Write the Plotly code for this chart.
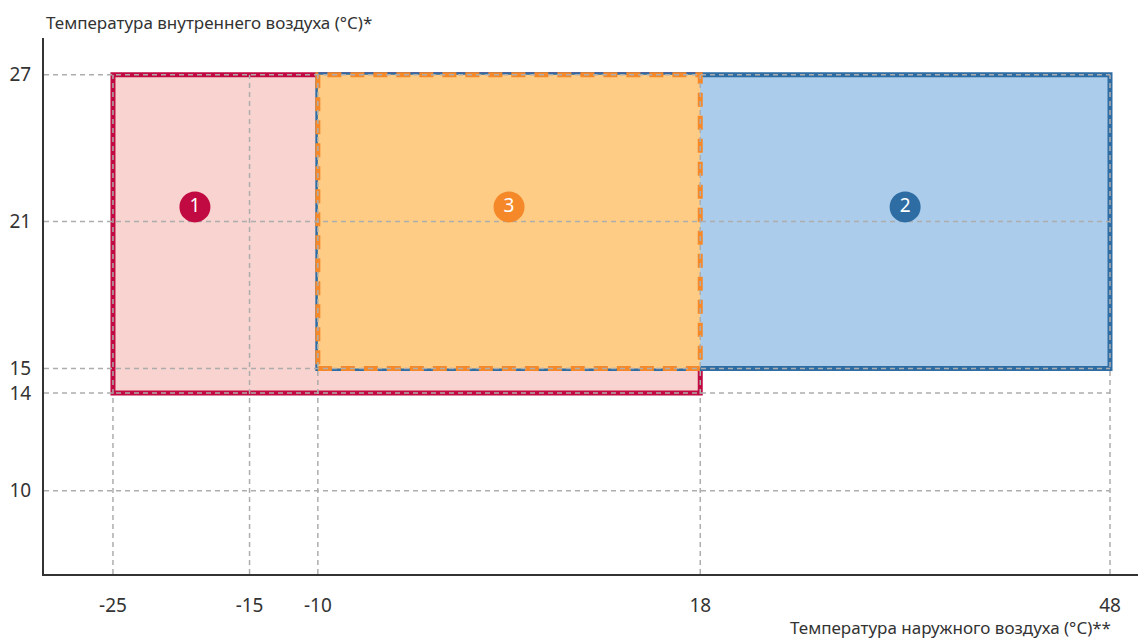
import plotly.graph_objects as go

# Outdoor temperature ticks (x) and indoor temperature ticks (y)
x_ticks = [-25, -15, -10, 18, 48]
y_ticks = [27, 21, 15, 14, 10]

# Operating zones: name, x0, x1, y0, y1
zone_names = ["1", "2", "3"]
zone_x0 = [-25, -10, -10]
zone_x1 = [18, 48, 18]
zone_y0 = [14, 15, 15]
zone_y1 = [27, 27, 27]

# Badge positions for each zone number
badge_x = [-19, 33, 4]
badge_y = [21.6, 21.6, 21.6]

fill_colors = ["#F8D3CF", "#ABCDEB", "#FECC85"]
line_colors = ["#C20A42", "#2E6DA4", "#F5892A"]
line_dash = ["solid", "solid", "14px,9px"]
badge_colors = ["#C20A42", "#2E6DA4", "#F5892A"]

GRID = "#ADADAD"
FONT = "Noto Sans"

x_range = [-30.05, 50.05]
y_range = [6.6, 28.5]

fig = go.Figure()

shapes = []
# zones (drawn below the grid)
for i in range(len(zone_names)):
    shapes.append(dict(
        type="rect", xref="x", yref="y",
        x0=zone_x0[i], x1=zone_x1[i], y0=zone_y0[i], y1=zone_y1[i],
        fillcolor=fill_colors[i],
        line=dict(color=line_colors[i], width=5, dash=line_dash[i]),
        layer="below",
    ))

# dashed grid, bounded by the last tick like in the original
for xv in x_ticks:
    shapes.append(dict(type="line", xref="x", yref="y",
                       x0=xv, x1=xv, y0=y_range[0], y1=max(y_ticks),
                       line=dict(color=GRID, width=1.5, dash="5px,4px"),
                       layer="below"))
for yv in y_ticks:
    shapes.append(dict(type="line", xref="x", yref="y",
                       x0=x_range[0], x1=max(x_ticks), y0=yv, y1=yv,
                       line=dict(color=GRID, width=1.5, dash="5px,4px"),
                       layer="below"))

fig.add_trace(go.Scatter(
    x=badge_x, y=badge_y,
    mode="markers+text",
    text=zone_names,
    textposition="middle center",
    textfont=dict(family=FONT, size=19, color="white"),
    marker=dict(size=31, color=badge_colors, line=dict(width=0)),
    hoverinfo="skip",
    showlegend=False,
))

fig.update_layout(
    width=1139, height=642,
    margin=dict(l=44, r=1, t=38, b=68),
    paper_bgcolor="white",
    plot_bgcolor="white",
    font=dict(family=FONT, size=19, color="#333333"),
    shapes=shapes,
    showlegend=False,
    annotations=[
        dict(text="Температура внутреннего воздуха (°C)*",
             xref="paper", yref="paper", x=0, y=1, yshift=2,
             xanchor="left", yanchor="bottom", showarrow=False,
             font=dict(family=FONT, size=17, color="#333333")),
        dict(text="Температура наружного воздуха (°C)**",
             xref="paper", yref="paper", x=1, y=0, xshift=-25, yshift=-67,
             xanchor="right", yanchor="bottom", showarrow=False,
             font=dict(family=FONT, size=17, color="#333333")),
    ],
)

fig.update_xaxes(
    range=x_range, tickvals=x_ticks, ticktext=[str(v) for v in x_ticks],
    showgrid=False, zeroline=False,
    showline=True, linecolor="#333333", linewidth=2,
    ticks="outside", ticklen=13, tickcolor="rgba(0,0,0,0)",
    tickfont=dict(size=19),
)
fig.update_yaxes(
    range=y_range, tickvals=y_ticks, ticktext=[str(v) for v in y_ticks],
    showgrid=False, zeroline=False,
    showline=True, linecolor="#333333", linewidth=2,
    ticks="outside", ticklen=7, tickcolor="rgba(0,0,0,0)",
    tickfont=dict(size=19),
)

# drop the default page margin so the figure sits at the window's corner
fig.write_html("out.html", config={"displayModeBar": False},
               post_script="document.body.style.margin='0';")
